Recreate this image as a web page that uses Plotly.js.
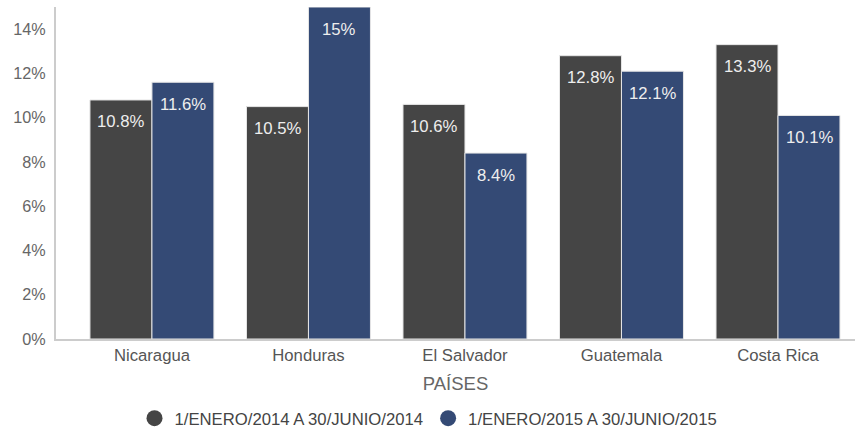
<!DOCTYPE html>
<html>
<head>
<meta charset="utf-8">
<script src="https://cdn.plot.ly/plotly-3.0.1.min.js"></script>
<style>html,body{margin:0;padding:0;background:#fff;}#chart{width:857px;height:429px;}</style>
</head>
<body>
<div id="chart"></div>
<script>
var categories = ['Nicaragua', 'Honduras', 'El Salvador', 'Guatemala', 'Costa Rica'];
var seriesNames = ['1/ENERO/2014 A 30/JUNIO/2014', '1/ENERO/2015 A 30/JUNIO/2015'];
var values2014 = [10.8, 10.5, 10.6, 12.8, 13.3];
var values2015 = [11.6, 15.0, 8.4, 12.1, 10.1];
var labels2014 = ['10.8%', '10.5%', '10.6%', '12.8%', '13.3%'];
var labels2015 = ['11.6%', '15%', '8.4%', '12.1%', '10.1%'];
var colors = ['#454545', '#344a75'];

var series = [values2014, values2015];
var labels = [labels2014, labels2015];
var FONT = '"Liberation Sans", Arial, sans-serif';

var traces = [];
series.forEach(function (vals, i) {
  traces.push({
    type: 'bar', x: categories, y: vals, name: seriesNames[i],
    marker: {color: colors[i], line: {color: '#e6e6e6', width: 1}},
    showlegend: false, hoverinfo: 'none'
  });
});
series.forEach(function (vals, i) {
  traces.push({
    type: 'scatter', mode: 'markers', x: [null], y: [null], name: seriesNames[i],
    marker: {color: colors[i], size: 16, symbol: 'circle'}, showlegend: true
  });
});

var annotations = [];
series.forEach(function (vals, i) {
  vals.forEach(function (v, j) {
    annotations.push({
      x: categories[j], y: v, xref: 'x', yref: 'y', text: labels[i][j],
      showarrow: false, xshift: (i === 0 ? -31 : 31), yshift: -22,
      yanchor: 'middle', xanchor: 'center',
      font: {family: FONT, size: 16.7, color: '#eeeeee'}
    });
  });
});

var layout = {
  width: 857, height: 429,
  margin: {l: 56, r: 2, t: 7, b: 90, autoexpand: false},
  paper_bgcolor: '#fff', plot_bgcolor: '#fff',
  font: {family: FONT, color: '#666'},
  barmode: 'group', bargap: 0.208, bargroupgap: 0,
  xaxis: {
    range: [-0.613, 4.492], showline: true, linecolor: '#cccccc', linewidth: 2,
    showgrid: false, ticks: '', tickfont: {size: 16.7, color: '#555'},
    title: {text: 'PAÍSES', font: {size: 18.5, color: '#666'}, standoff: 13},
    fixedrange: true, automargin: false
  },
  yaxis: {
    range: [0, 15.0], showline: true, linecolor: '#cccccc', linewidth: 2,
    showgrid: false, zeroline: false, ticks: '', dtick: 2, ticksuffix: '%',
    ticklabelstandoff: 5,
    tickfont: {size: 16.2, color: '#666'}, fixedrange: true, automargin: false
  },
  legend: {
    orientation: 'h', x: 0.5, xref: 'container', xanchor: 'center',
    y: 0.025, yref: 'container', yanchor: 'middle',
    font: {size: 16.7, color: '#444'}, itemsizing: 'trace'
  },
  annotations: annotations,
  showlegend: true
};

Plotly.newPlot('chart', traces, layout, {displayModeBar: false, staticPlot: true});
</script>
</body>
</html>
